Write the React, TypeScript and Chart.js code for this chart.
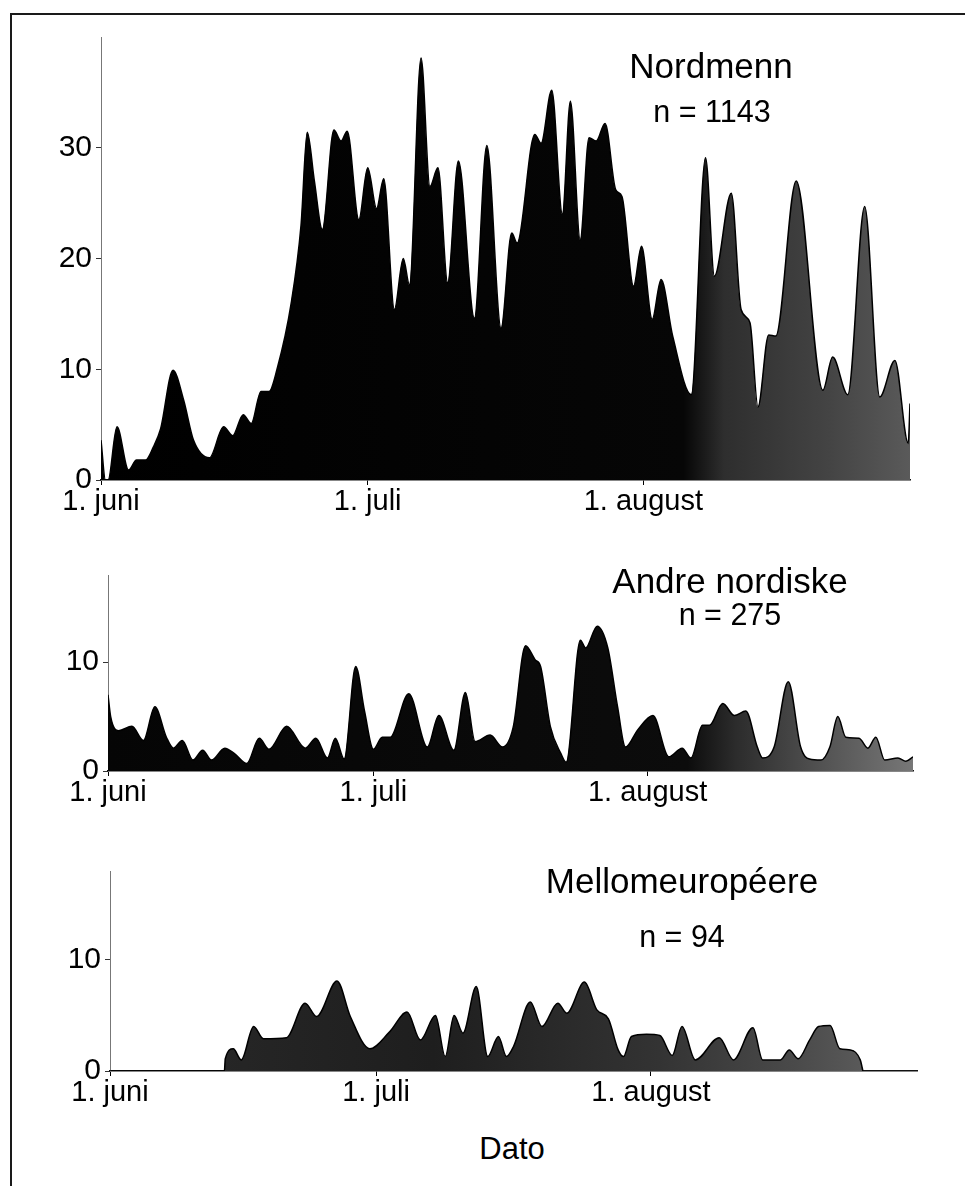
import React, { useEffect, useRef } from "react";
import { Chart, registerables } from "chart.js";

Chart.register(...registerables);

const FONT = '"Liberation Sans", Arial, Helvetica, sans-serif';

// x axis: days since 1 June (0 = 1. juni, 30 = 1. juli, 61 = 1. august, 91 = 31. august)
const dateTickDays = [0, 30, 61];
const dateTickLabels = ["1. juni", "1. juli", "1. august"];
const lastDay = 91;

// Nordmenn, n = 1143
const nordDays = [0, 0.5, 0.8, 1.8, 3.1, 4, 5, 5.9, 6.7, 8.1, 9.3, 10.4, 12.2, 13.8, 14.8, 16, 16.9, 18, 18.9, 19.8, 21.4, 22.5, 23.2, 24, 24.9, 26.2, 27, 27.7, 29, 30, 31, 31.8, 33, 34, 34.7, 36, 37, 37.9, 39, 40.2, 42, 43.4, 45, 46.2, 46.8, 48.8, 49.5, 50.7, 51.9, 52.8, 53.9, 54.9, 55.7, 56.7, 57.9, 58.6, 59.9, 60.8, 62, 63, 64.3, 66.4, 68, 69, 70.9, 72, 73, 73.9, 75.1, 75.9, 78.2, 81.2, 82.3, 84, 85.9, 87.6, 89.3, 90.8, 91];
const nordCounts = [3.6, 0, 0, 4.8, 0.9, 1.8, 1.8, 3, 4.6, 9.9, 7.2, 3.6, 2, 4.8, 4, 5.9, 5.1, 8, 8, 10, 16, 23, 31.4, 27, 22.6, 31.6, 30.6, 31.5, 23.5, 28.2, 24.5, 27.2, 15.4, 20, 17.6, 38.1, 26.5, 28.2, 17.8, 28.8, 14.6, 30.2, 13.7, 22.3, 21.4, 31.2, 30.4, 35.2, 24, 34.2, 21.7, 30.9, 30.6, 32.2, 26.2, 25.6, 17.5, 21.1, 14.5, 18.1, 13, 7.7, 29.1, 18.4, 25.9, 15.4, 14.2, 6.6, 13.1, 13, 27, 8.1, 11.1, 7.7, 24.7, 7.5, 10.8, 3.3, 6.9];

// Andre nordiske, n = 275
const nordiskDays = [0, 0.3, 1.2, 2.7, 4, 5.3, 6.6, 7.4, 8.4, 9.6, 10.7, 11.7, 13.2, 14.3, 15.7, 17.1, 18.2, 20.2, 22.3, 23.5, 24.8, 25.7, 26.7, 28, 29, 30, 31, 31.9, 34, 36.1, 37.4, 39.1, 40.4, 41.5, 43.2, 44.6, 45.8, 47.2, 48.3, 48.9, 50, 51.2, 51.8, 53.4, 54, 55.3, 56.5, 57.6, 58.5, 59.9, 61.6, 63.4, 64.9, 65.9, 67.2, 68, 69.5, 70.8, 72.1, 73.4, 74, 75.3, 76.9, 78.3, 79.3, 80.6, 81.6, 82.5, 83.4, 84.9, 85.9, 86.8, 87.8, 89.3, 90.2, 91];
const nordiskCounts = [7, 5, 3.7, 4.1, 2.8, 5.9, 3.1, 2.1, 2.8, 1, 1.9, 1, 2.1, 1.6, 0.7, 3, 2, 4.1, 2.1, 3, 1.2, 3, 1.1, 9.6, 5.5, 2, 3.1, 3.1, 7.1, 2.2, 5.1, 1.9, 7.2, 2.7, 3.3, 2.2, 4, 11.5, 10.2, 9.6, 4.1, 1.6, 0.8, 12, 11.3, 13.3, 11.3, 5.9, 2.2, 3.8, 5.1, 1.3, 2.1, 1.2, 4.2, 4.2, 6.2, 5.1, 5.5, 2.2, 1.2, 2.2, 8.2, 2.2, 1.1, 1, 2.2, 5, 3.1, 3, 2.1, 3.1, 1, 1.2, 0.9, 1.3];

// Mellomeuropéere, n = 94
const europaDays = [0, 12.9, 13, 13.9, 14.8, 16.2, 17.3, 19.9, 22, 23.3, 25.6, 27.1, 29.3, 31.5, 33.5, 35, 36.7, 37.8, 38.8, 39.8, 41.3, 42.6, 43.8, 44.7, 45.5, 47.4, 48.7, 50.5, 51.5, 53.5, 54.9, 56.2, 57.3, 57.9, 58.8, 60.5, 62, 63.4, 64.5, 66, 68.7, 70.3, 72.5, 73.6, 75.6, 76.6, 77.6, 78.9, 79.9, 81.2, 82.3, 83.5, 84.6, 84.9];
const europaCounts = [0, 0, 1.1, 2, 1, 4, 2.9, 3, 6.1, 4.9, 8.1, 4.9, 2, 3.5, 5.3, 2.8, 5, 1.3, 5, 3.4, 7.6, 1.3, 3.1, 1.3, 2.2, 6.2, 4, 6.1, 5.2, 8, 5.5, 4.7, 1.9, 1.3, 3.1, 3.3, 3.2, 1.4, 4, 1, 3, 1, 3.9, 1, 1, 1.9, 1.1, 2.8, 4, 4.1, 2, 1.9, 1, 0];

type PanelSpec = {
  canvasTop: number;
  canvasHeight: number;
  areaLeft: number;
  areaRight: number;
  areaTop: number;
  areaBottom: number;
  yMax: number;
  yTicks: number[];
  days: number[];
  counts: number[];
  stops: [number, string][];
};

const panels: PanelSpec[] = [
  {
    canvasTop: 0, canvasHeight: 535, areaLeft: 101, areaRight: 910, areaTop: 37, areaBottom: 480,
    yMax: 40, yTicks: [0, 10, 20, 30], days: nordDays, counts: nordCounts,
    stops: [[0, "#000000"], [0.72, "#060606"], [0.77, "#2e2e2e"], [0.9, "#444444"], [1, "#5a5a5a"]],
  },
  {
    canvasTop: 540, canvasHeight: 285, areaLeft: 108, areaRight: 913, areaTop: 575, areaBottom: 771,
    yMax: 18, yTicks: [0, 10], days: nordiskDays, counts: nordiskCounts,
    stops: [[0, "#050505"], [0.72, "#0c0c0c"], [0.78, "#2c2c2c"], [0.88, "#505050"], [1, "#777777"]],
  },
  {
    canvasTop: 840, canvasHeight: 285, areaLeft: 110, areaRight: 917, areaTop: 871, areaBottom: 1071,
    yMax: 18, yTicks: [0, 10], days: europaDays, counts: europaCounts,
    stops: [[0, "#2a2a2a"], [0.4, "#1e1e1e"], [0.68, "#333333"], [0.85, "#4a4a4a"], [1, "#666666"]],
  },
];

function PanelChart({ spec }: { spec: PanelSpec }) {
  const ref = useRef<HTMLCanvasElement | null>(null);
  useEffect(() => {
    if (!ref.current) return;
    const xAxisHeight = spec.canvasTop + spec.canvasHeight - spec.areaBottom;
    const chart = new Chart(ref.current, {
      type: "line",
      data: {
        datasets: [
          {
            data: spec.days.map((d, i) => ({ x: d, y: spec.counts[i] })),
            fill: "origin",
            borderColor: "#000000",
            borderWidth: 1.5,
            pointRadius: 0,
            cubicInterpolationMode: "monotone",
            backgroundColor: (ctx: any) => {
              const a = ctx.chart.chartArea;
              if (!a) return "#000";
              const g = ctx.chart.ctx.createLinearGradient(a.left, 0, a.right, 0);
              spec.stops.forEach(([p, c]) => g.addColorStop(p, c));
              return g;
            },
          },
        ],
      },
      options: {
        responsive: false,
        animation: false,
        events: [],
        layout: {
          padding: { left: 0, right: 965 - spec.areaRight, top: spec.areaTop - spec.canvasTop, bottom: 0 },
        },
        plugins: { legend: { display: false }, tooltip: { enabled: false }, title: { display: false } },
        scales: {
          x: {
            type: "linear",
            min: 0,
            max: lastDay,
            afterBuildTicks: (s: any) => {
              s.ticks = dateTickDays.map((v) => ({ value: v }));
            },
            afterFit: (s: any) => {
              s.height = xAxisHeight;
            },
            ticks: {
              autoSkip: false,
              maxRotation: 0,
              padding: 0,
              color: "#000",
              font: { family: FONT, size: 29 },
              callback: (v: any) => {
                const i = dateTickDays.indexOf(Number(v));
                return i >= 0 ? dateTickLabels[i] : "";
              },
            },
            grid: { drawOnChartArea: false, drawTicks: true, tickLength: 5, color: "#000", lineWidth: 1 },
            border: { display: true, color: "#111", width: 1.5 },
          },
          y: {
            min: 0,
            max: spec.yMax,
            afterBuildTicks: (s: any) => {
              s.ticks = spec.yTicks.map((v) => ({ value: v }));
            },
            afterFit: (s: any) => {
              s.width = spec.areaLeft;
            },
            ticks: {
              padding: 4,
              color: "#000",
              font: { family: FONT, size: 30 },
            },
            grid: { drawOnChartArea: false, drawTicks: true, tickLength: 5, color: "#333", lineWidth: 1 },
            border: { display: true, color: "#777", width: 1, dash: [4, 2] },
          },
        },
      },
    } as any);
    return () => chart.destroy();
  }, [spec]);
  return (
    <canvas
      ref={ref}
      width={965}
      height={spec.canvasHeight}
      style={{ position: "absolute", left: 0, top: spec.canvasTop, width: 965, height: spec.canvasHeight, display: "block" }}
    />
  );
}

type Label = { text: string; cx: number; top: number; size: number };
const labels: Label[] = [
  { text: "Nordmenn", cx: 711, top: 48, size: 35 },
  { text: "n = 1143", cx: 712, top: 96, size: 30.5 },
  { text: "Andre nordiske", cx: 730, top: 563, size: 35 },
  { text: "n = 275", cx: 730, top: 599, size: 30.5 },
  { text: "Mellomeuropéere", cx: 682, top: 863, size: 35 },
  { text: "n = 94", cx: 682, top: 921, size: 30.5 },
  { text: "Dato", cx: 512, top: 1133, size: 31 },
];

export default function App() {
  return (
    <div style={{ position: "absolute", left: 0, top: 0, width: 965, height: 1186, overflow: "hidden", background: "#fff", fontFamily: FONT }}>
      <div style={{ position: "absolute", left: 10, top: 13, width: 970, height: 1200, borderTop: "2px solid #1a1a1a", borderLeft: "2px solid #1a1a1a" }} />
      {panels.map((p, i) => (
        <PanelChart key={i} spec={p} />
      ))}
      {labels.map((l, i) => (
        <div
          key={i}
          style={{ position: "absolute", left: l.cx - 200, width: 400, top: l.top, textAlign: "center", fontSize: l.size, lineHeight: 1, color: "#000", whiteSpace: "nowrap" }}
        >
          {l.text}
        </div>
      ))}
    </div>
  );
}
